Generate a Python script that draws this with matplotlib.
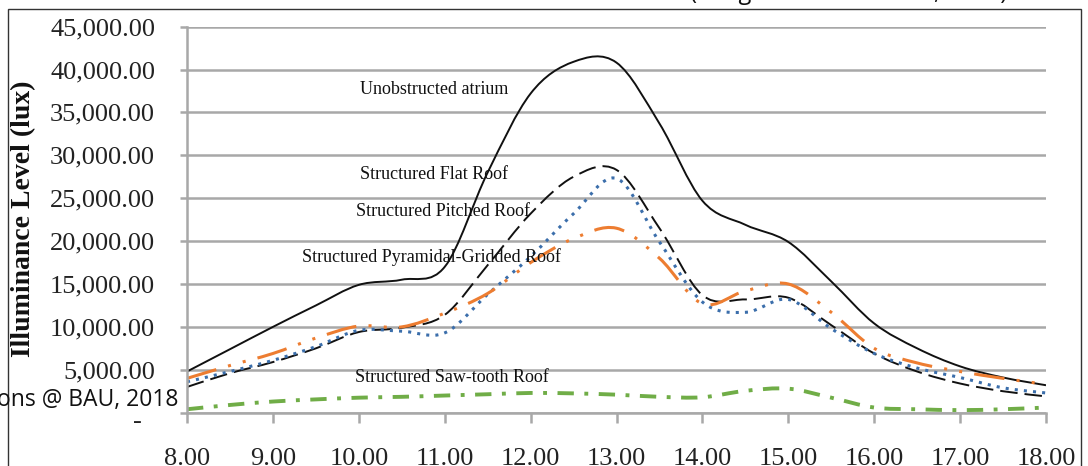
import matplotlib
matplotlib.use("Agg")
import matplotlib.pyplot as plt
from matplotlib.patches import Rectangle, PathPatch
from matplotlib.path import Path
from matplotlib.ticker import FuncFormatter

# Illuminance readings (lux), every half hour
hours = [8.0, 8.5, 9.0, 9.5, 10.0, 10.5, 11.0, 11.5, 12.0, 12.5, 13.0,
         13.5, 14.0, 14.5, 15.0, 15.5, 16.0, 16.5, 17.0, 17.5, 18.0]

unobstructed = [4800, 7400, 10000, 12500, 14900, 15500, 17000, 28000, 37200, 40900, 40800,
                33700, 24700, 21900, 19900, 15300, 10400, 7500, 5400, 4100, 3200]
flat_roof = [3000, 4600, 5900, 7500, 9400, 9900, 11400, 17200, 23200, 27500, 28300,
             21500, 13700, 13200, 13400, 10200, 6900, 4800, 3400, 2500, 1900]
pitched_roof = [3600, 4800, 6100, 7700, 9600, 9500, 9300, 13800, 18200, 23200, 27300,
                19900, 12900, 11700, 13200, 9800, 6900, 5200, 4100, 2900, 2300]
pyramidal_roof = [4000, 5500, 6900, 8700, 10100, 10000, 11600, 13900, 17500, 20300, 21500,
                  18000, 12700, 14200, 15000, 11700, 7500, 5800, 4800, 4000, 3300]
sawtooth_roof = [400, 900, 1300, 1550, 1750, 1850, 2000, 2150, 2300, 2250, 2100,
                 1850, 1800, 2550, 2800, 1750, 600, 400, 300, 400, 600]

x_ticks = [8, 9, 10, 11, 12, 13, 14, 15, 16, 17, 18]
y_ticks = [0, 5000, 10000, 15000, 20000, 25000, 30000, 35000, 40000, 45000]

serif = "Liberation Serif"
grid_col = "#a8a8a8"


def smooth_path(x, y):
    # Excel-style "smoothed line": bezier segments through the data points
    verts = [(x[0], y[0])]
    codes = [Path.MOVETO]
    n = len(x)
    for i in range(n - 1):
        xa, ya = (x[i - 1], y[i - 1]) if i > 0 else (x[i], y[i])
        xb, yb = (x[i + 2], y[i + 2]) if i + 2 < n else (x[i + 1], y[i + 1])
        verts.append((x[i] + (x[i + 1] - xa) / 6, y[i] + (y[i + 1] - ya) / 6))
        verts.append((x[i + 1] - (xb - x[i]) / 6, y[i + 1] - (yb - y[i]) / 6))
        verts.append((x[i + 1], y[i + 1]))
        codes += [Path.CURVE4] * 3
    return Path(verts, codes)


def add_series(ax, y, color, lw, dashes=None):
    ls = "-" if dashes is None else (0, dashes)
    ax.add_patch(PathPatch(smooth_path(hours, y), fill=False, ec=color, lw=lw,
                           linestyle=ls, capstyle="butt", joinstyle="round"))


fig = plt.figure(figsize=(10.88, 4.66), dpi=100, facecolor="w")
ax = fig.add_axes([0.1719, 0.1144, 0.7895, 0.8285])

add_series(ax, unobstructed, "#111111", 1.4)
add_series(ax, flat_roof, "#111111", 1.4, (9, 3.6))
add_series(ax, pitched_roof, "#3b6eab", 2.2, (1.0, 2.0))
add_series(ax, pyramidal_roof, "#ed7d31", 2.2, (10, 4, 1, 4, 1, 4))
add_series(ax, sawtooth_roof, "#70ad47", 2.8, (4.2, 2.7, 1, 2.7))

ax.set_xlim(8, 18)
ax.set_ylim(0, 45000)
ax.set_xticks(x_ticks)
ax.set_yticks(y_ticks)
ax.xaxis.set_major_formatter(FuncFormatter(lambda v, p: f"{v:.2f}"))
ax.yaxis.set_major_formatter(FuncFormatter(lambda v, p: f"{v:,.2f}" if v else ""))

ax.grid(axis="y", color=grid_col, lw=1.8)
ax.set_axisbelow(True)
for side in ["top", "right"]:
    ax.spines[side].set_visible(False)
for side in ["left", "bottom"]:
    ax.spines[side].set_color(grid_col)
    ax.spines[side].set_linewidth(1.8)

ax.tick_params(axis="y", length=5, width=1.8, color=grid_col, pad=18,
               labelsize=19, labelcolor="#222222")
ax.tick_params(axis="x", length=7, width=1.8, color=grid_col, pad=18.5,
               labelsize=19, labelcolor="#222222")
for lab in ax.get_xticklabels() + ax.get_yticklabels():
    lab.set_family(serif)

# zero is shown as a dash (accounting format), sitting a little low
ax.annotate("-", xy=(8, 0), xytext=(-36, -5), textcoords="offset points",
            ha="center", va="center_baseline", fontsize=19, family=serif,
            color="#222222", annotation_clip=False)

# series labels written on the plot
ann = dict(ha="center", va="center", fontsize=13, family=serif, color="#111111")
ax.text(10.88, 37700, "Unobstructed atrium", **ann)
ax.text(10.87, 27800, "Structured Flat Roof", **ann)
ax.text(10.98, 23400, "Structured Pitched Roof", **ann)
ax.text(10.84, 18100, "Structured Pyramidal-Gridded Roof", **ann)
ax.text(11.08, 4130, "Structured Saw-tooth Roof", **ann)

fig.text(24 / 1088, 1 - 219 / 466, "Illuminance Level (lux)", rotation=90,
         ha="center", va="center", fontsize=20, fontweight="bold",
         family=serif, color="#111111")

# frame and captions of the page the chart was cut from
fig.add_artist(Rectangle((8 / 1088, -0.1), 1073 / 1088, 1 - 9 / 466 + 0.1,
                         transform=fig.transFigure, fill=False,
                         ec="#333333", lw=1.0, clip_on=False))
fig.text(178 / 1088, 60 / 466, "ons @ BAU, 2018", ha="right", va="baseline",
         fontsize=16.5, family="Open Sans", color="#111111")
fig.text(690 / 1088, 1 + 1 / 466, "(Image source: Author, 2018)", ha="left",
         va="baseline", fontsize=17, family="Open Sans", color="#111111")

fig.savefig("out.png", dpi=100)
